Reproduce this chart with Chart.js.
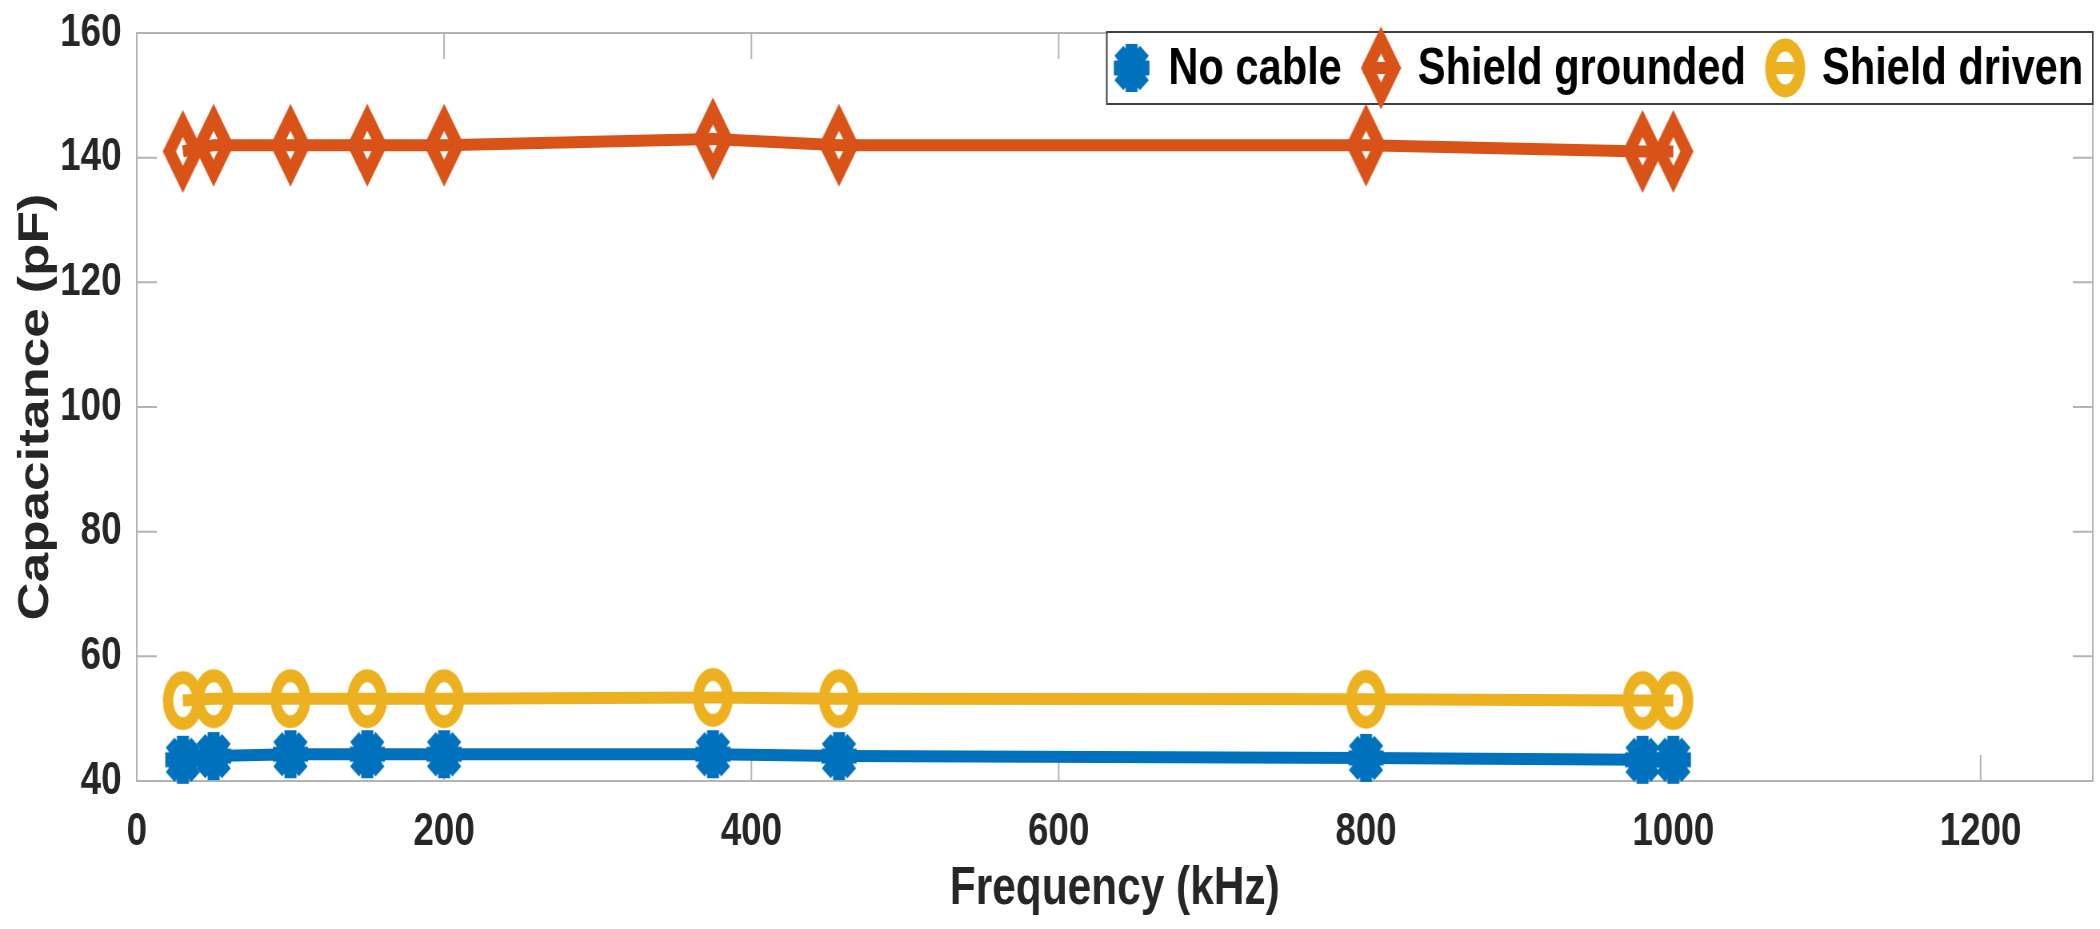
<!DOCTYPE html>
<html>
<head>
<meta charset="utf-8">
<script src="https://cdn.jsdelivr.net/npm/chart.js@4.4.1/dist/chart.umd.min.js"></script>
<style>
html, body { margin: 0; padding: 0; background: #fff; overflow: hidden; }
/* the original figure is squeezed horizontally, so draw wide and squeeze */
#wrap { position: absolute; left: 0; top: 0; width: 2625px; height: 929px; transform: scaleX(0.8); transform-origin: 0 0; }
</style>
</head>
<body>
<div id="wrap"><canvas id="chart1" width="2625" height="929" style="width:2625px;height:929px"></canvas></div>
<script>
"use strict"

// frequency (kHz)
const freqs = [30, 50, 100, 150, 200, 375, 457, 800, 980, 1000]
// capacitance (pF)
const noCable = [43.4, 44.0, 44.3, 44.3, 44.3, 44.3, 44.0, 43.7, 43.4, 43.4]
const shieldGrounded = [141.0, 142.0, 142.0, 142.0, 142.0, 143.0, 142.0, 142.0, 141.0, 141.0]
const shieldDriven = [52.9, 53.2, 53.2, 53.2, 53.2, 53.4, 53.2, 53.1, 52.9, 52.9]

const seriesNames = ['No cable', 'Shield grounded', 'Shield driven']
const xTicks = [0, 200, 400, 600, 800, 1000, 1200]
const yTicks = [40, 60, 80, 100, 120, 140, 160]

const blue = '#0072BD'
const orange = '#D95319'
const yellow = '#EDB120'
const axisGray = '#b4b4b4'
const fontFam = "'Liberation Sans', Arial, sans-serif"

// matlab-like markers drawn on small canvases
function makeMarker(kind, color){
    const c = document.createElement('canvas')
    c.width = 64
    c.height = 96
    const g = c.getContext('2d')
    const cx = 32, cy = 48
    g.strokeStyle = color
    g.fillStyle = color
    if (kind === 'star') {
        // thick '*' ends up as a notched blob
        const rx = 22, ry = 24
        g.lineWidth = 15
        g.beginPath()
        g.moveTo(cx - rx, cy); g.lineTo(cx + rx, cy)
        g.moveTo(cx, cy - ry); g.lineTo(cx, cy + ry)
        g.moveTo(cx - rx*0.72, cy - ry*0.72); g.lineTo(cx + rx*0.72, cy + ry*0.72)
        g.moveTo(cx - rx*0.72, cy + ry*0.72); g.lineTo(cx + rx*0.72, cy - ry*0.72)
        g.stroke()
        g.beginPath()
        g.ellipse(cx, cy, rx - 5, ry - 5, 0, 0, Math.PI*2)
        g.fill()
    } else if (kind === 'diamond') {
        g.lineWidth = 14
        g.lineJoin = 'miter'
        g.miterLimit = 10
        g.beginPath()
        g.moveTo(cx, cy - 28)
        g.lineTo(cx + 17, cy)
        g.lineTo(cx, cy + 28)
        g.lineTo(cx - 17, cy)
        g.closePath()
        g.stroke()
    } else {
        g.lineWidth = 13
        g.beginPath()
        g.ellipse(cx, cy, 18.5, 23, 0, 0, Math.PI*2)
        g.stroke()
    }
    return c
}

const markers = [makeMarker('star', blue), makeMarker('diamond', orange), makeMarker('circle', yellow)]

function toPoints(ys){
    let pts = []
    for (let i = 0; i < freqs.length; i++) {
        pts.push({x: freqs[i], y: ys[i]})
    }
    return pts
}

// box around the axes with inward ticks on all four sides
const boxTicks = {
    id: 'boxTicks',
    beforeDatasetsDraw(chart){
        const ctx = chart.ctx
        const a = chart.chartArea
        const xs = chart.scales.x, ys = chart.scales.y
        ctx.save()
        ctx.strokeStyle = axisGray
        ctx.lineWidth = 2
        ctx.beginPath()
        ctx.moveTo(a.left, a.top); ctx.lineTo(a.right, a.top); ctx.lineTo(a.right, a.bottom)
        for (const t of ys.ticks) {
            const y = ys.getPixelForValue(t.value)
            ctx.moveTo(a.left, y); ctx.lineTo(a.left + 25, y)
            ctx.moveTo(a.right, y); ctx.lineTo(a.right - 25, y)
        }
        for (const t of xs.ticks) {
            const x = xs.getPixelForValue(t.value)
            ctx.moveTo(x, a.bottom); ctx.lineTo(x, a.bottom - 26)
            ctx.moveTo(x, a.top); ctx.lineTo(x, a.top + 26)
        }
        ctx.stroke()
        ctx.restore()
    }
}

// legend box in the top right corner, like matlab 'northeast'
const boxLegend = {
    id: 'boxLegend',
    afterDraw(chart){
        const ctx = chart.ctx
        const a = chart.chartArea
        ctx.save()
        ctx.font = 'bold 52px ' + fontFam
        const padL = 31, toText = 46, toNext = 49, padR = 12
        let widths = chart.data.datasets.map(d => ctx.measureText(d.label).width)
        let total = padL + padR
        widths.forEach((w, i) => { total += toText + w + (i < widths.length - 1 ? toNext : 0) })
        const left = a.right - total
        const top = a.top - 1, h = 72
        const cy = top + h/2
        ctx.strokeStyle = '#404040'
        ctx.lineWidth = 2
        ctx.fillStyle = '#fff'
        ctx.fillRect(left, top, total, h)
        ctx.strokeRect(left, top, total, h)
        let x = left + padL
        chart.data.datasets.forEach((d, i) => {
            ctx.strokeStyle = d.borderColor
            ctx.lineWidth = 12
            ctx.beginPath()
            ctx.moveTo(x - 22, cy); ctx.lineTo(x + 22, cy)
            ctx.stroke()
            const m = d.pointStyle
            ctx.drawImage(m, x - m.width/2, cy - m.height/2)
            ctx.fillStyle = '#000'
            ctx.textBaseline = 'middle'
            ctx.textAlign = 'left'
            ctx.fillText(d.label, x + toText, cy + 2)
            x += toText + widths[i] + toNext
        })
        ctx.restore()
    }
}

function noPad(s){
    s.paddingTop = 0
    s.paddingBottom = 0
    s.paddingLeft = 0
    s.paddingRight = 0
}

const ctx = document.getElementById('chart1')
Chart.defaults.font.family = fontFam

let datasets = [noCable, shieldGrounded, shieldDriven].map((ys, i) => ({
    label: seriesNames[i],
    data: toPoints(ys),
    borderColor: [blue, orange, yellow][i],
    backgroundColor: [blue, orange, yellow][i],
    borderWidth: 12,
    pointStyle: markers[i],
    pointRadius: 20,
    tension: 0,
    clip: false
}))

let myChart = new Chart(ctx, {
    type: 'line',
    data: { datasets: datasets },
    options: {
        responsive: false,
        animation: false,
        devicePixelRatio: 1,
        layout: { autoPadding: false, padding: { left: 0, right: 9, top: 33, bottom: 8 } },
        plugins: {
            legend: { display: false },
            tooltip: { enabled: false }
        },
        scales: {
            x: {
                type: 'linear',
                min: 0,
                max: 1273,
                afterBuildTicks: s => { s.ticks = xTicks.map(v => ({value: v})) },
                afterFit: s => { s.height = 140; noPad(s) },
                grid: { display: true, drawOnChartArea: false, drawTicks: false },
                border: { display: true, color: axisGray, width: 2 },
                ticks: { color: '#262626', font: { size: 46, weight: 'bold' }, padding: 24, maxRotation: 0,
                         callback: v => String(v) },
                title: { display: true, text: 'Frequency (kHz)', color: '#262626', font: { size: 53, weight: 'bold' }, padding: { top: 0, bottom: 0 } }
            },
            y: {
                min: 40,
                max: 160,
                afterBuildTicks: s => { s.ticks = yTicks.map(v => ({value: v})) },
                afterFit: s => { s.width = 171; noPad(s) },
                grid: { display: true, drawOnChartArea: false, drawTicks: false },
                border: { display: true, color: axisGray, width: 2 },
                ticks: { color: '#262626', font: { size: 46, weight: 'bold' }, padding: 19,
                         callback: v => String(v) },
                title: { display: true, text: 'Capacitance (pF)', color: '#262626', font: { size: 53, weight: 'bold' }, padding: { top: 14, bottom: 0 } }
            }
        }
    },
    plugins: [boxTicks, boxLegend]
});
</script>
</body>
</html>
